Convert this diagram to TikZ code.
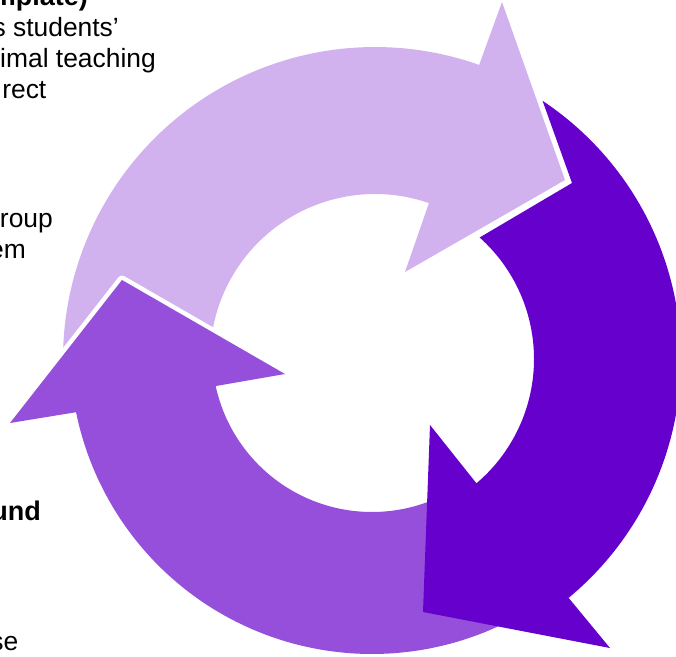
\documentclass[tikz,border=0pt]{standalone}
\usepackage{fontspec}
\setmainfont{Liberation Sans}
\definecolor{lightc}{RGB}{209,178,238}
\definecolor{midc}{RGB}{149,79,219}
\definecolor{darkc}{RGB}{102,0,204}
\begin{document}
\begin{tikzpicture}[x=1pt,y=-1pt,
  txt/.style={inner sep=0pt, anchor=base east, font=\fontsize{26.4}{31}\selectfont},
  btxt/.style={txt, font=\fontsize{27}{31}\selectfont\bfseries}]
\useasboundingbox (0,0) rectangle (676,656);
% text fragments (partly hidden)
\node[btxt] (t1) at (88,5) {mplate)};
\node[txt] (t2) at (119,36) {s students’};
\node[txt] (t3) at (156,67) {imal teaching};
\node[txt] (t4) at (46.5,98) {rect};
\node[txt] (t5) at (53,227) {roup};
\node[txt] (t6) at (26,258) {em};
\node[btxt] (t7) at (41,520) {und};
\node[txt] (t8) at (18.5,650) {se};
% light arrow
\fill[lightc] plot[domain=181:289.5, samples=90] ({375+312*cos(\x)},{359+312*sin(\x)})
  -- (502,2) -- (565,180) -- (405,272) -- (430,200)
  -- plot[domain=289.3:181, samples=90] ({375+165*cos(\x)},{359+165*sin(\x)}) -- cycle;
% medium arrow
\fill[midc, preaction={draw=white, line width=9pt, line join=round}]
  plot[domain=62:168.5, samples=90] ({372+302*cos(\x)},{352+302*sin(\x)})
  -- (10,423) -- (122,280) -- (285,374) -- (216,386)
  -- plot[domain=167.7:62, samples=90] ({372+160*cos(\x)},{352+160*sin(\x)}) -- cycle;
% dark arrow
\fill[darkc] plot[domain=303.6:410.4, samples=90] ({371+310*cos(\x)},{359+310*sin(\x)})
  -- (610,648) -- (423,612) -- (430,425) -- (477,484)
  -- plot[domain=409.7:311.8, samples=90] ({371+163*cos(\x)},{359+163*sin(\x)})
  -- (572,183) -- cycle;
\end{tikzpicture}
\end{document}
